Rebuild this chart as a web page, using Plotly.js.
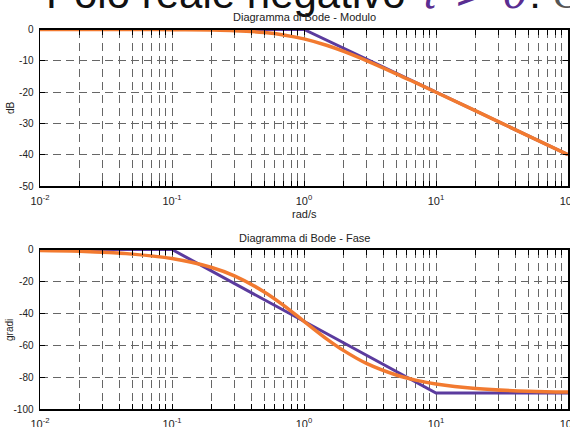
<!DOCTYPE html>
<html>
<head>
<meta charset="utf-8">
<script src="https://cdn.plot.ly/plotly-3.0.1.min.js"></script>
<style>
  html, body { margin: 0; padding: 0; background: #ffffff; }
  #chart { width: 570px; height: 427px; }
</style>
</head>
<body>
<div id="chart"></div>
<script>
// Frequencies (rad/s) at which the exact response is sampled
const omega = [0.01, 0.02, 0.05, 0.1, 0.2, 0.3, 0.5, 0.7, 1, 1.5, 2, 3, 5, 7, 10, 20, 50, 100];
// Exact magnitude (dB) of the first-order pole
const magExact = [0, 0, -0.01, -0.04, -0.17, -0.37, -0.97, -1.73, -3.01, -5.12, -6.99, -10.0, -14.15, -17.0, -20.04, -26.0, -33.98, -40.0];
// Exact phase (degrees)
const phaseExact = [-0.6, -1.1, -2.9, -5.7, -11.3, -16.7, -26.6, -35.0, -45.0, -56.3, -63.4, -71.6, -78.7, -81.9, -84.3, -87.1, -88.9, -89.4];

// Asymptotic (straight-line) approximations
const omegaMagAsym = [0.01, 1, 100];
const magAsym = [0, 0, -40];
const omegaPhaseAsym = [0.01, 0.1, 10, 100];
const phaseAsym = [0, 0, -90, -90];

// Decade ticks (labelled) and in-between grid positions
const xTicks = [0.01, 0.1, 1, 10, 100];
const xLabels = ['10<sup>-2</sup>', '10<sup>-1</sup>', '10<sup>0</sup>', '10<sup>1</sup>', '10<sup>2</sup>'];
const xMinor = [];
[-2, -1, 0, 1].forEach(function (e) {
  for (let d = 2; d <= 9; d++) xMinor.push(d * Math.pow(10, e));
});

const magTicks = [-50, -40, -30, -20, -10, 0];
const magLabels = ['-50', '-40', '-30', '-20', '-10', '0'];
const phaseTicks = [-100, -80, -60, -40, -20, 0];
const phaseLabels = ['-100', '-80', '-60', '-40', '-20', '0'];

const PURPLE = '#5b3b9e';
const ORANGE = '#f27a30';
const FONT = 'Liberation Sans, Arial, sans-serif';
const GRID = '#666666';
const DASH = '8px,5px';

const traces = [
  { x: omegaMagAsym, y: magAsym, xaxis: 'x', yaxis: 'y', mode: 'lines',
    line: { color: PURPLE, width: 3 }, hoverinfo: 'skip' },
  { x: omega, y: magExact, xaxis: 'x', yaxis: 'y', mode: 'lines',
    line: { color: ORANGE, width: 3.5, shape: 'spline' }, hoverinfo: 'skip' },
  { x: omegaPhaseAsym, y: phaseAsym, xaxis: 'x2', yaxis: 'y2', mode: 'lines',
    line: { color: PURPLE, width: 3 }, hoverinfo: 'skip' },
  { x: omega, y: phaseExact, xaxis: 'x2', yaxis: 'y2', mode: 'lines',
    line: { color: ORANGE, width: 3.5, shape: 'spline' }, hoverinfo: 'skip' }
];

const W = 570, H = 427;
const px = function (v) { return v / W; };
const py = function (v) { return 1 - v / H; };

function xAxis(anchor) {
  return {
    type: 'log', range: [-2, 2], domain: [px(40), px(568)], anchor: anchor,
    tickmode: 'array', tickvals: xTicks, ticktext: xLabels,
    ticks: 'inside', ticklen: 5, tickwidth: 1, tickcolor: '#000',
    showline: true, linecolor: '#000', linewidth: 1.5, mirror: 'ticks',
    showgrid: true, gridcolor: GRID, gridwidth: 1, griddash: DASH,
    minor: { tickmode: 'array', tickvals: xMinor, ticks: 'inside', ticklen: 5,
             tickwidth: 1, tickcolor: '#000', showgrid: true, gridcolor: GRID,
             gridwidth: 1, griddash: DASH },
    zeroline: false, tickfont: { family: FONT, size: 11, color: '#222' },
    ticklabelstandoff: 4, ticklabeloverflow: 'allow'
  };
}
function yAxis(anchor, domain, range, vals, labels) {
  return {
    range: range, domain: domain, anchor: anchor,
    tickmode: 'array', tickvals: vals, ticktext: labels,
    ticks: 'inside', ticklen: 5, tickwidth: 1, tickcolor: '#000',
    showline: true, linecolor: '#000', linewidth: 1.5, mirror: 'ticks',
    showgrid: true, gridcolor: GRID, gridwidth: 1, griddash: DASH,
    zeroline: false, tickfont: { family: FONT, size: 10, color: '#222' },
    ticklabelstandoff: 3, ticklabeloverflow: 'allow'
  };
}

const layout = {
  width: W, height: H,
  margin: { l: 0, r: 0, t: 0, b: 0 },
  paper_bgcolor: '#ffffff', plot_bgcolor: '#ffffff',
  showlegend: false,
  xaxis: xAxis('y'),
  yaxis: yAxis('x', [py(186), py(29.5)], [-50, 0], magTicks, magLabels),
  xaxis2: xAxis('y2'),
  yaxis2: yAxis('x2', [py(409), py(249.5)], [-100, 0], phaseTicks, phaseLabels),
  annotations: [
    { text: 'Polo reale negativo <span style="color:#5a2d91;font-family:DejaVu Serif;font-style:italic">\u03c4 &gt; 0</span>: <span style="font-family:Liberation Serif;font-style:italic;color:#555">G(j\u03c9)</span>',
      xref: 'paper', yref: 'paper', x: px(44), y: py(20), xanchor: 'left', yanchor: 'bottom',
      showarrow: false, font: { family: FONT, size: 42, color: '#111' } },
    { text: 'Diagramma di Bode - Modulo', xref: 'paper', yref: 'paper',
      x: px(304), y: py(17), xanchor: 'center', yanchor: 'middle', showarrow: false,
      font: { family: FONT, size: 11, color: '#222' } },
    { text: 'Diagramma di Bode - Fase', xref: 'paper', yref: 'paper',
      x: px(304), y: py(238), xanchor: 'center', yanchor: 'middle', showarrow: false,
      font: { family: FONT, size: 11, color: '#222' } },
    { text: 'rad/s', xref: 'paper', yref: 'paper',
      x: px(304), y: py(214), xanchor: 'center', yanchor: 'middle', showarrow: false,
      font: { family: FONT, size: 11, color: '#222' } },
    { text: 'dB', xref: 'paper', yref: 'paper', textangle: -90,
      x: px(10), y: py(108), xanchor: 'center', yanchor: 'middle', showarrow: false,
      font: { family: FONT, size: 10, color: '#222' } },
    { text: 'gradi', xref: 'paper', yref: 'paper', textangle: -90,
      x: px(9), y: py(330), xanchor: 'center', yanchor: 'middle', showarrow: false,
      font: { family: FONT, size: 10, color: '#222' } }
  ]
};

Plotly.newPlot('chart', traces, layout, { staticPlot: true, displayModeBar: false });
</script>
</body>
</html>
